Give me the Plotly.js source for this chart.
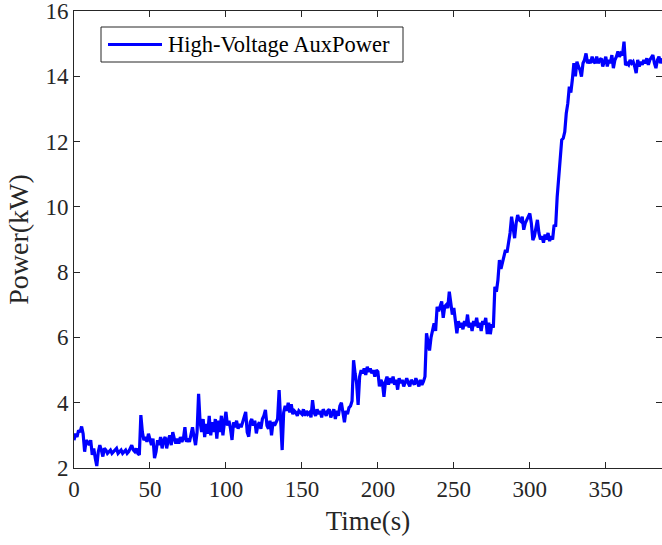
<!DOCTYPE html>
<html>
<head>
<meta charset="utf-8">
<script src="https://cdn.plot.ly/plotly-3.0.1.min.js"></script>
<style>
html,body{margin:0;padding:0;background:#fff;}
#chart{width:662px;height:545px;}
</style>
</head>
<body>
<div id="chart"></div>
<script>
// Sampling: one value per second, starting at t = 0 s
const seriesName = "High-Voltage AuxPower";
const xTicks = [0, 50, 100, 150, 200, 250, 300, 350];
const yTicks = [2, 4, 6, 8, 10, 12, 14, 16];

const power0to99 = [
  2.85,3.05,2.95,3.15,3.1,3.27,3.05,2.5,2.85,2.8,
  2.7,2.85,2.4,2.6,2.3,2.06,2.5,2.7,2.55,2.35,
  2.6,2.55,2.45,2.5,2.55,2.45,2.5,2.55,2.6,2.45,
  2.5,2.55,2.45,2.5,2.55,2.45,2.5,2.6,2.7,2.55,
  2.5,2.6,2.45,2.4,3.62,3.1,2.85,2.95,2.8,3.05,
  2.9,2.7,2.9,2.3,2.5,2.85,2.7,2.95,2.6,2.85,
  2.95,2.6,2.85,3.0,2.7,3.1,2.9,2.75,2.9,2.75,
  2.95,2.8,2.9,3.25,2.8,2.9,2.8,3.05,3.25,2.95,
  2.7,3.1,4.27,3.4,3.1,3.5,2.95,3.35,3.05,3.6,
  3.0,3.4,3.1,3.5,2.9,3.45,3.1,3.6,3.0,3.4
];
const power100to199 = [
  3.72,3.3,3.45,3.2,2.86,3.4,3.25,3.45,3.2,3.35,
  3.25,3.4,3.6,3.72,3.1,2.96,3.4,3.5,3.3,3.45,
  3.06,3.3,3.4,3.2,3.5,3.6,3.78,3.3,3.2,3.45,
  3.0,3.4,3.3,3.4,3.5,4.39,3.6,2.55,3.7,3.9,
  3.75,4.0,3.7,3.95,3.65,3.75,3.7,3.6,3.75,3.7,
  3.65,3.8,3.6,3.75,3.65,3.7,3.55,4.08,3.7,3.6,
  3.8,3.65,3.75,3.55,3.8,3.7,3.6,3.75,3.8,3.55,
  3.7,3.8,3.5,3.75,3.6,3.9,4.0,3.7,3.4,3.75,
  3.65,3.85,3.9,4.05,5.3,4.9,4.6,3.93,4.8,5.0,
  4.9,5.05,4.85,5.1,4.95,5.05,4.9,5.0,4.8,5.0
];
const power200to299 = [
  4.95,4.5,4.7,4.6,4.18,4.65,4.8,4.55,4.75,4.6,
  4.8,4.55,4.7,4.4,4.75,4.6,4.7,4.5,4.65,4.75,
  4.6,4.5,4.7,4.6,4.55,4.75,4.6,4.5,4.7,4.55,
  4.65,4.8,6.13,5.8,5.6,6.0,6.2,6.43,6.2,6.94,
  6.8,7.0,7.1,6.6,6.95,7.0,6.9,7.4,7.0,6.7,
  6.9,6.5,6.13,6.5,6.3,6.45,6.25,6.5,6.35,6.7,
  6.3,6.45,6.2,6.5,6.35,6.6,6.3,6.45,6.2,6.5,
  6.4,6.6,6.1,6.45,6.1,6.4,6.3,7.55,7.4,7.75,
  8.37,8.1,8.3,8.5,8.68,8.6,8.88,9.2,9.7,9.3,
  9.04,9.5,9.75,9.6,9.56,9.7,9.3,9.5,9.6,9.7
];
const power300to387 = [
  9.8,9.5,8.98,9.1,9.3,9.6,9.2,9.0,9.1,8.9,
  9.15,9.0,9.2,8.95,9.1,9.0,9.45,9.39,10.3,11.0,
  11.44,12.05,12.1,12.3,12.87,13.17,13.68,13.5,13.9,14.4,
  14.0,14.45,14.3,14.2,13.99,14.4,14.5,14.7,14.4,14.5,
  14.4,14.6,14.45,14.4,14.6,14.4,14.5,14.55,14.3,14.5,
  14.6,14.3,14.5,14.4,14.65,14.25,14.5,14.6,14.76,14.6,
  14.7,14.65,15.06,14.34,14.4,14.35,14.5,14.4,14.45,14.3,
  14.1,14.5,14.3,14.45,14.35,14.5,14.4,14.55,14.35,14.5,
  14.6,14.65,14.4,14.25,14.5,14.6,14.4,14.55
];
const power = power0to99.concat(power100to199, power200to299, power300to387);

const FONT = "Liberation Serif, Times New Roman, serif";
const AX = "#262626";

const axisCommon = {
  showgrid: false,
  zeroline: false,
  showline: true,
  linecolor: AX,
  linewidth: 1,
  mirror: "ticks",
  ticks: "inside",
  ticklen: 6,
  tickwidth: 1,
  tickcolor: AX,
  ticklabeloverflow: "allow",
  tickfont: {family: FONT, size: 23, color: AX}
};

const trace = {
  type: "scatter",
  mode: "lines",
  name: seriesName,
  y: power,
  x0: 0,
  dx: 1,
  line: {color: "#0000FF", width: 3.2},
  showlegend: false
};

const layout = {
  width: 662,
  height: 545,
  margin: {l: 74, r: 0, t: 11, b: 77},
  paper_bgcolor: "#fff",
  plot_bgcolor: "#fff",
  xaxis: Object.assign({}, axisCommon, {
    range: [0, 387],
    tickvals: xTicks,
    ticktext: xTicks.map(String),
    title: {text: "Time(s)", font: {family: FONT, size: 27, color: AX}, standoff: 10}
  }),
  yaxis: Object.assign({}, axisCommon, {
    range: [2, 16],
    tickvals: yTicks,
    ticktext: yTicks.map(String),
    title: {text: "Power(kW)", font: {family: FONT, size: 28, color: AX}, standoff: 8}
  }),
  shapes: [
    {type: "rect", xref: "paper", yref: "paper",
     x0: (101-74)/588, x1: (403-74)/588, y0: 1-(62-11)/457, y1: 1-(27-11)/457,
     line: {color: "#262626", width: 1}, fillcolor: "#fff"},
    {type: "line", xref: "paper", yref: "paper",
     x0: (108-74)/588, x1: (162-74)/588, y0: 1-(44.5-11)/457, y1: 1-(44.5-11)/457,
     line: {color: "#0000FF", width: 3.2}}
  ],
  annotations: [
    {xref: "paper", yref: "paper", x: (166-74)/588, y: 1-(44.5-11)/457,
     xanchor: "left", yanchor: "middle", showarrow: false,
     text: seriesName, font: {family: FONT, size: 22.5, color: "#000"}}
  ]
};

Plotly.newPlot("chart", [trace], layout, {displayModeBar: false, staticPlot: true});
</script>
</body>
</html>
